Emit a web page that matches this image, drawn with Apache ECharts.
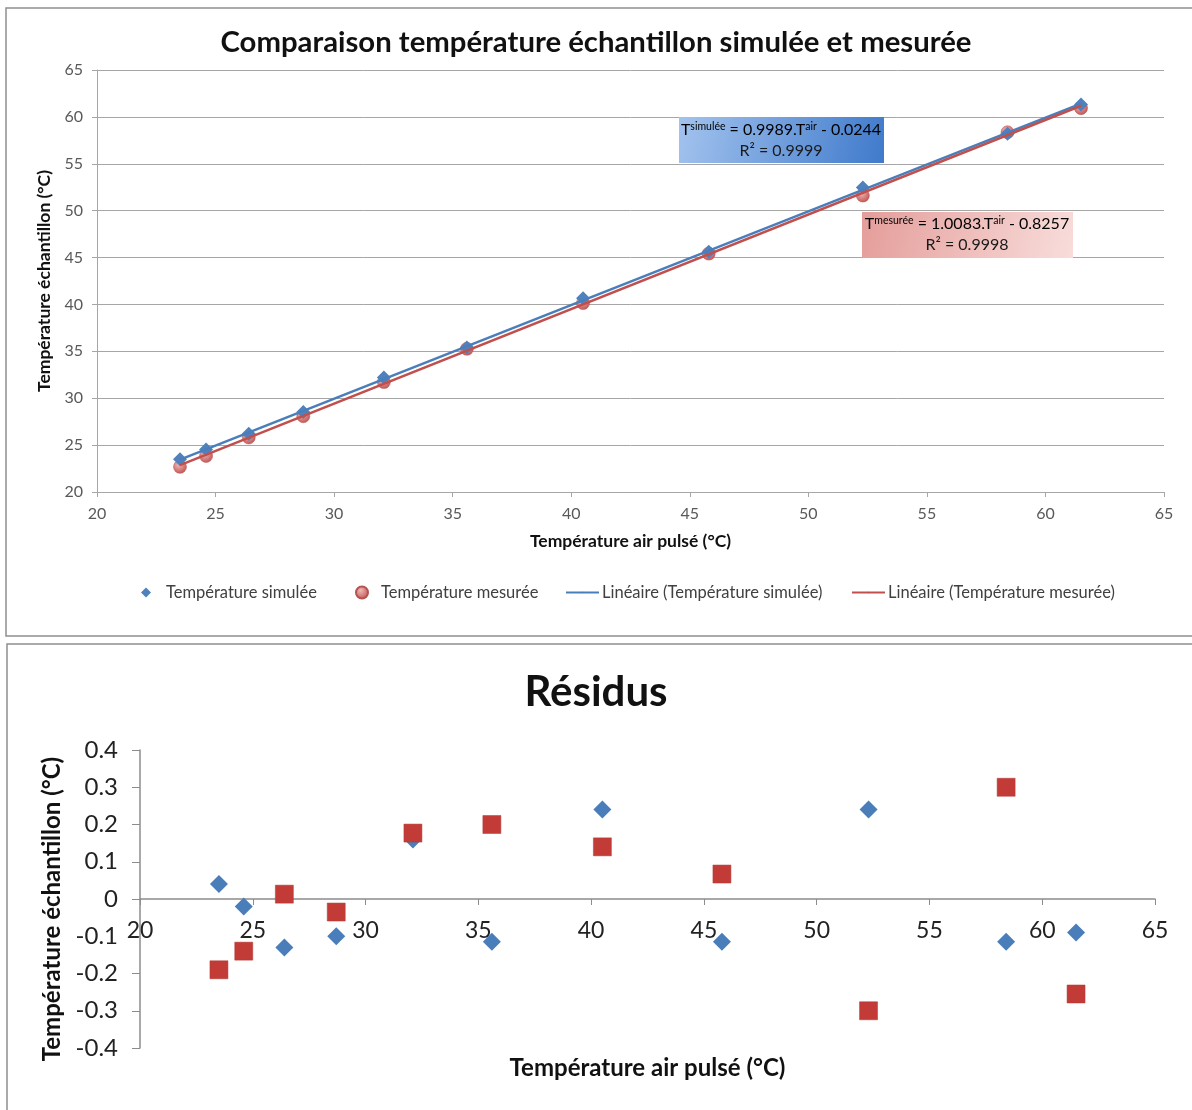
<!DOCTYPE html>
<html><head><meta charset="utf-8">
<script src="https://cdn.jsdelivr.net/npm/echarts@6/dist/echarts.min.js"></script>
<style>html,body{margin:0;padding:0;background:#fff}#c{width:1192px;height:1110px}</style>
</head><body><div id="c"></div>
<script>
// ---- data ----
const airTemp  = [23.5, 24.6, 26.4, 28.7, 32.1, 35.6, 40.5, 45.8, 52.3, 58.4, 61.5];
const simTemp  = [23.49, 24.53, 26.22, 28.54, 32.20, 35.42, 40.67, 45.61, 52.46, 58.20, 61.32];
const mesTemp  = [22.68, 23.84, 25.81, 28.08, 31.72, 35.27, 40.15, 45.42, 51.61, 58.36, 60.93];
const fitX     = [23.5, 61.5];
const simFitY  = [23.45, 61.41];
const mesFitY  = [22.87, 61.19];
const simResid = [0.04, -0.02, -0.13, -0.10, 0.16, -0.115, 0.24, -0.115, 0.24, -0.115, -0.09];
const mesResid = [-0.19, -0.14, 0.013, -0.035, 0.177, 0.20, 0.14, 0.067, -0.30, 0.30, -0.255];
const topTitle = 'Comparaison température échantillon simulée et mesurée';
const botTitle = 'Résidus';
const yName = 'Température échantillon (°C)';
const xName = 'Température air pulsé (°C)';
const legSim = 'Température simulée';
const legMes = 'Température mesurée';
const legSimLin = 'Linéaire (Température simulée)';
const legMesLin = 'Linéaire (Température mesurée)';

const F = 'Lato';
const zip = (a, b) => a.map((v, i) => [v, b[i]]);
const chart = echarts.init(document.getElementById('c'));

const legendBase = (name, left, w, h, pad) => ({
  data: [name], left: left, top: 579, itemWidth: w, itemHeight: h, itemGap: 0,
  textStyle: { fontFamily: F, fontSize: 16.5, color: '#404040', padding: [0, 0, 0, pad] }, selectedMode: false
});

chart.setOption({
  animation: false,
  title: [
    { text: topTitle, left: 'center', top: 23, textStyle: { fontFamily: F, fontSize: 29.3, fontWeight: 'bold', color: '#111' } },
    { text: botTitle, left: 'center', top: 666, textStyle: { fontFamily: F, fontSize: 42, fontWeight: 'bold', color: '#111' } }
  ],
  legend: [
    legendBase(legSim, 136, 10, 10, 10),
    legendBase(legMes, 350, 12, 12, 8),
    legendBase(legSimLin, 560, 33, 2, -2),
    legendBase(legMesLin, 846, 33, 2, -2)
  ],
  grid: [
    { left: 97, right: 28, top: 70, bottom: 618, outerBoundsMode: 'none', containLabel: false },
    { left: 140, right: 37, top: 750, bottom: 62, outerBoundsMode: 'none', containLabel: false }
  ],
  xAxis: [
    { gridIndex: 0, type: 'value', min: 20, max: 65, interval: 5,
      name: xName, nameLocation: 'middle', nameGap: 40,
      nameTextStyle: { fontFamily: F, fontSize: 17.5, fontWeight: 'bold', color: '#111' },
      axisLine: { show: true, lineStyle: { color: '#a6a6a6', width: 1 } },
      axisTick: { show: true, length: 5, lineStyle: { color: '#a6a6a6' } },
      axisLabel: { fontFamily: F, fontSize: 16, color: '#595959', margin: 14 },
      splitLine: { show: false } },
    { gridIndex: 1, type: 'value', min: 20, max: 65, interval: 5, position: 'bottom', offset: -149,
      name: xName, nameLocation: 'middle', nameGap: 157,
      nameTextStyle: { fontFamily: F, fontSize: 24, fontWeight: 'bold', color: '#111' },
      axisLine: { show: true, onZero: false, lineStyle: { color: '#8c8c8c', width: 1.5 } },
      axisTick: { show: true, length: 6, lineStyle: { color: '#8c8c8c' } },
      axisLabel: { fontFamily: F, fontSize: 23, color: '#222', margin: 20, showMinLabel: true, showMaxLabel: true },
      splitLine: { show: false } }
  ],
  yAxis: [
    { gridIndex: 0, type: 'value', min: 20, max: 65, interval: 5,
      name: yName, nameLocation: 'middle', nameGap: 44,
      nameTextStyle: { fontFamily: F, fontSize: 17.5, fontWeight: 'bold', color: '#111' },
      axisLine: { show: true, lineStyle: { color: '#a6a6a6', width: 1 } },
      axisTick: { show: true, length: 5, lineStyle: { color: '#a6a6a6' } },
      axisLabel: { fontFamily: F, fontSize: 16, color: '#595959', margin: 14 },
      splitLine: { show: true, lineStyle: { color: '#a6a6a6', width: 1 } } },
    { gridIndex: 1, type: 'value', min: -0.4, max: 0.4, interval: 0.1,
      name: yName, nameLocation: 'middle', nameGap: 70,
      nameTextStyle: { fontFamily: F, fontSize: 24, fontWeight: 'bold', color: '#111', padding: [0, 20, 0, 0] },
      axisLine: { show: true, lineStyle: { color: '#8c8c8c', width: 1.5 } },
      axisTick: { show: true, length: 8, lineStyle: { color: '#8c8c8c' } },
      axisLabel: { fontFamily: F, fontSize: 24, color: '#222', margin: 22, showMinLabel: true, showMaxLabel: true },
      splitLine: { show: false } }
  ],
  series: [
    { name: legMes, type: 'scatter', xAxisIndex: 0, yAxisIndex: 0, symbol: 'circle', symbolSize: 13,
      data: zip(airTemp, mesTemp), z: 2,
      itemStyle: { opacity: 1, color: { type: 'radial', x: 0.4, y: 0.35, r: 0.7, colorStops: [{ offset: 0, color: '#f0b8b6' }, { offset: 1, color: '#c0504d' }] }, borderColor: '#b55350', borderWidth: 0.5 } },
    { name: legSim, type: 'scatter', xAxisIndex: 0, yAxisIndex: 0, symbol: 'diamond', symbolSize: 14,
      data: zip(airTemp, simTemp), z: 2,
      itemStyle: { opacity: 1, color: '#4f81bd' } },
    { name: legSimLin, type: 'line', xAxisIndex: 0, yAxisIndex: 0, symbol: 'none',
      data: zip(fitX, simFitY), z: 4, lineStyle: { color: '#4a7ebb', width: 2.5 }, itemStyle: { color: '#4a7ebb' } },
    { name: legMesLin, type: 'line', xAxisIndex: 0, yAxisIndex: 0, symbol: 'none',
      data: zip(fitX, mesFitY), z: 4, lineStyle: { color: '#c0504d', width: 2.5 }, itemStyle: { color: '#be4b48' } },
    { name: 'Résidus simulée', type: 'scatter', xAxisIndex: 1, yAxisIndex: 1, symbol: 'diamond', symbolSize: 18,
      data: zip(airTemp, simResid), itemStyle: { opacity: 1, color: '#4a7ebb' } },
    { name: 'Résidus mesurée', type: 'scatter', xAxisIndex: 1, yAxisIndex: 1, symbol: 'rect', symbolSize: 18,
      data: zip(airTemp, mesResid), itemStyle: { opacity: 1, color: '#c23b37', borderColor: '#b03a36', borderWidth: 0.5 } }
  ],
  graphic: [
    { type: 'rect', shape: { x: 6, y: 8, width: 1200, height: 628 }, style: { fill: 'none', stroke: '#8e8e8e', lineWidth: 1.5 }, silent: true },
    { type: 'rect', shape: { x: 7, y: 644, width: 1200, height: 480 }, style: { fill: 'none', stroke: '#8e8e8e', lineWidth: 1.5 }, silent: true },
    { type: 'rect', shape: { x: 679, y: 117, width: 205, height: 46 }, z: 10,
      style: { fill: { type: 'linear', x: 0, y: 0, x2: 1, y2: 1, colorStops: [{ offset: 0, color: '#a3c3ee' }, { offset: 1, color: '#3f7acb' }] } } },
    { type: 'text', x: 781, y: 130, z: 11,
      style: { text: '{n|T}{s|simulée}{n| = 0.9989.T}{s|air}{n| - 0.0244}', align: 'center', verticalAlign: 'middle',
        rich: { n: { fontFamily: F, fontSize: 16, color: '#1a1a1a', lineHeight: 18 },
                s: { fontFamily: F, fontSize: 10.5, color: '#1a1a1a', verticalAlign: 'top', lineHeight: 18 } } } },
    { type: 'text', x: 781, y: 151, z: 11,
      style: { text: 'R² = 0.9999', align: 'center', verticalAlign: 'middle', fontFamily: F, fontSize: 16, fill: '#1a1a1a' } },
    { type: 'rect', shape: { x: 862, y: 212, width: 211, height: 46 }, z: 10,
      style: { fill: { type: 'linear', x: 0, y: 0, x2: 1, y2: 1, colorStops: [{ offset: 0, color: '#e49d9a' }, { offset: 1, color: '#f8dddb' }] } } },
    { type: 'text', x: 967, y: 224, z: 11,
      style: { text: '{n|T}{s|mesurée}{n| = 1.0083.T}{s|air}{n| - 0.8257}', align: 'center', verticalAlign: 'middle',
        rich: { n: { fontFamily: F, fontSize: 16, color: '#1a1a1a', lineHeight: 18 },
                s: { fontFamily: F, fontSize: 10.5, color: '#1a1a1a', verticalAlign: 'top', lineHeight: 18 } } } },
    { type: 'text', x: 967, y: 245, z: 11,
      style: { text: 'R² = 0.9998', align: 'center', verticalAlign: 'middle', fontFamily: F, fontSize: 16, fill: '#1a1a1a' } }
  ]
});
</script></body></html>
